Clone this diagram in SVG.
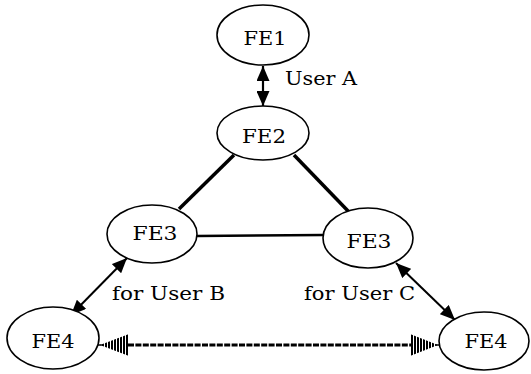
<svg xmlns="http://www.w3.org/2000/svg" width="531" height="374" viewBox="0 0 531 374">
  <style>
    .node ellipse { fill: #ffffff; stroke: #000000; stroke-width: 1.6; }
    text { font-family: "DejaVu Serif", "Liberation Serif", serif; font-size: 19px; fill: #000000; }
    .node text { text-anchor: middle; }
    .link { stroke: #000000; fill: none; }
  </style>
  <defs>
    <marker id="head" viewBox="0 0 15 13" refX="15" refY="6.5" markerWidth="15" markerHeight="13" markerUnits="userSpaceOnUse" orient="auto-start-reverse">
      <path d="M0,0 L15,6.5 L0,13 z" fill="#000000"/>
    </marker>
    <pattern id="hatch" width="3" height="4" patternUnits="userSpaceOnUse">
      <rect x="0" y="0" width="2" height="4" fill="#000000"/>
    </pattern>
  </defs>

  <!-- connectors -->
  <g id="connectors">
    <line class="link" x1="263" y1="66" x2="263" y2="106" stroke-width="2.2" marker-start="url(#head)" marker-end="url(#head)"/>
    <line class="link" x1="234" y1="155" x2="179" y2="209" stroke-width="3.5"/>
    <line class="link" x1="294" y1="155" x2="349" y2="212" stroke-width="3.5"/>
    <line class="link" x1="197" y1="236" x2="323" y2="235" stroke-width="2.5"/>
    <line class="link" x1="127" y1="258" x2="71" y2="315" stroke-width="2" marker-start="url(#head)" marker-end="url(#head)"/>
    <line class="link" x1="396" y1="263" x2="455" y2="320" stroke-width="2" marker-start="url(#head)" marker-end="url(#head)"/>
    <!-- hatched two-way link between the FE4 entities -->
    <line class="link" x1="128" y1="345" x2="412" y2="345" stroke-width="3.2" stroke-dasharray="6 1.4"/>
    <polygon points="100,345 129,334 129,356" fill="url(#hatch)"/>
    <polygon points="438,345 410,334 410,356" fill="url(#hatch)"/>
    <line class="link" x1="98" y1="345" x2="104" y2="345" stroke-width="1.5"/>
    <line class="link" x1="436" y1="345" x2="441" y2="345" stroke-width="1.5"/>
  </g>

  <!-- nodes -->
  <g id="fe1" class="node">
    <ellipse cx="263" cy="35" rx="46" ry="30"/>
    <text x="265" y="45" textLength="43" lengthAdjust="spacingAndGlyphs">FE1</text>
  </g>
  <g id="fe2" class="node">
    <ellipse cx="263" cy="133" rx="46" ry="27"/>
    <text x="264" y="143" textLength="44" lengthAdjust="spacingAndGlyphs">FE2</text>
  </g>
  <g id="fe3-b" class="node">
    <ellipse cx="152" cy="234" rx="45" ry="29"/>
    <text x="155" y="240" textLength="45" lengthAdjust="spacingAndGlyphs">FE3</text>
  </g>
  <g id="fe3-c" class="node">
    <ellipse cx="368" cy="238" rx="45" ry="30"/>
    <text x="369" y="248" textLength="45" lengthAdjust="spacingAndGlyphs">FE3</text>
  </g>
  <g id="fe4-b" class="node">
    <ellipse cx="53" cy="338" rx="46" ry="31"/>
    <text x="53" y="348" textLength="43" lengthAdjust="spacingAndGlyphs">FE4</text>
  </g>
  <g id="fe4-c" class="node">
    <ellipse cx="484" cy="341" rx="45" ry="29"/>
    <text x="486" y="348" textLength="43" lengthAdjust="spacingAndGlyphs">FE4</text>
  </g>

  <!-- link labels -->
  <g id="labels">
    <text x="285" y="85" textLength="72" lengthAdjust="spacingAndGlyphs">User A</text>
    <text x="112" y="300" textLength="113" lengthAdjust="spacingAndGlyphs">for User B</text>
    <text x="304" y="300" textLength="111" lengthAdjust="spacingAndGlyphs">for User C</text>
  </g>
</svg>
